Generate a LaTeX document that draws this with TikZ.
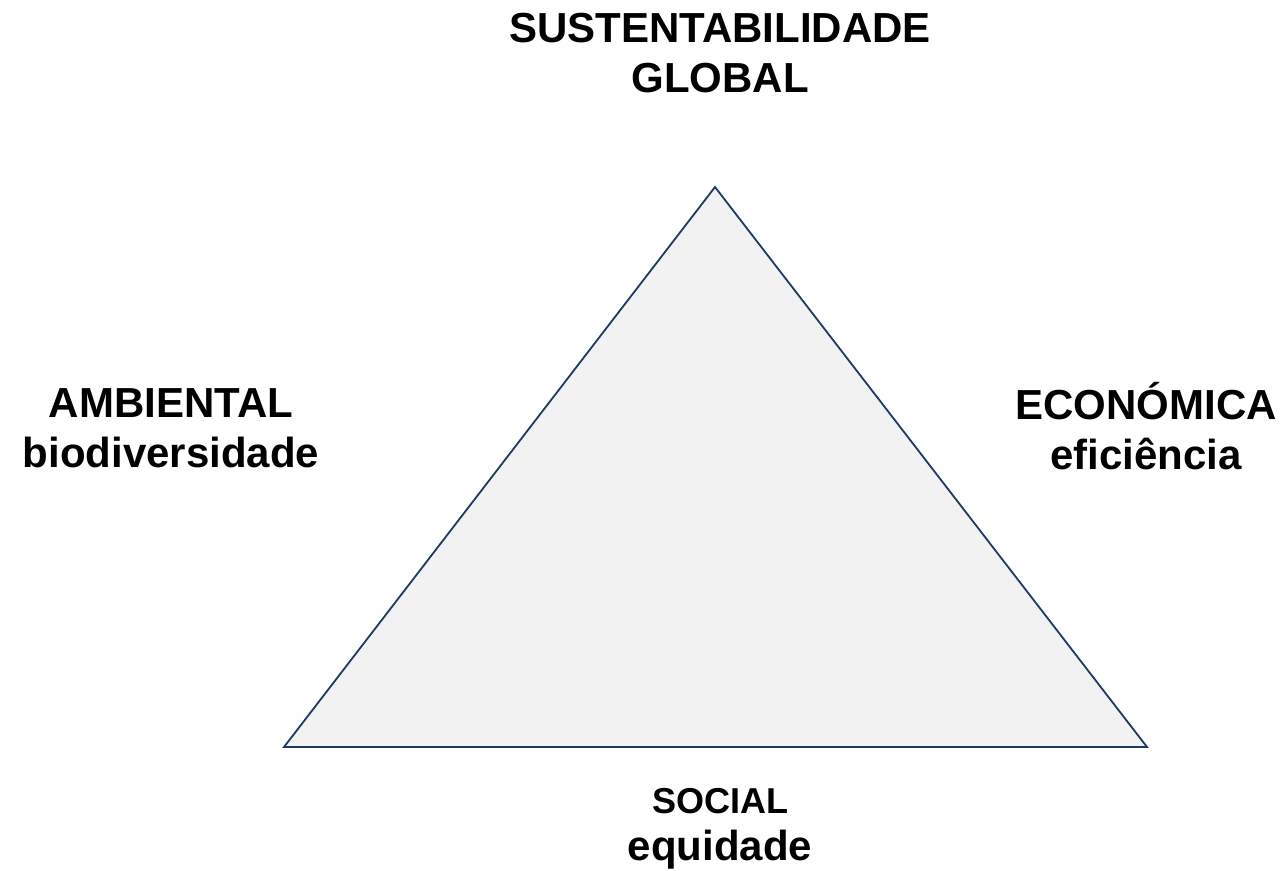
\documentclass[tikz,border=0pt]{standalone}
\usepackage{fontspec}
\setmainfont{Liberation Sans}

\definecolor{edgeblue}{HTML}{1F3864}
\definecolor{facegray}{HTML}{F2F2F2}

\begin{document}
\begin{tikzpicture}[x=1pt, y=-1pt,
  side/.style={draw=edgeblue, fill=facegray, line width=1.8pt, line join=miter},
  label/.style={inner sep=0pt, anchor=base, align=center,
    font=\fontsize{42}{50}\selectfont\bfseries}
]

\useasboundingbox (0,0) rectangle (1287,870);

% corners
\coordinate (top)   at (715,187);
\coordinate (left)  at (284,747);
\coordinate (right) at (1147,747);

% triangle
\draw[side] (top) -- (left) -- (right) -- cycle;

% labels (placed by the baseline of their last line)
\node[label] (global) at (720,92)   {SUSTENTABILIDADE\\GLOBAL};
\node[label] (amb)    at (171,467)  {AMBIENTAL\\biodiversidade};
\node[label] (eco)    at (1146,469) {ECONÓMICA\\eficiência};
\node[label, font=\fontsize{42}{47}\selectfont\bfseries]
             (soc)    at (720,860)  {{\fontsize{36}{47}\selectfont SOCIAL}\\equidade};

\end{tikzpicture}
\end{document}
